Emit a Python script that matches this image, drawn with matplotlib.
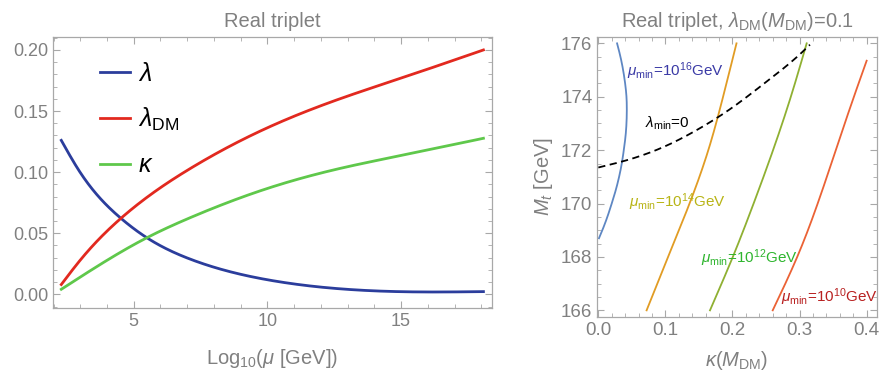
import numpy as np
import matplotlib
matplotlib.use("Agg")
import matplotlib.pyplot as plt
from matplotlib.ticker import MultipleLocator, FormatStrFormatter

plt.rcParams['font.family'] = ['Liberation Sans', 'DejaVu Sans']
plt.rcParams['mathtext.fontset'] = 'custom'
plt.rcParams['mathtext.rm'] = 'Liberation Sans'
plt.rcParams['mathtext.it'] = 'Liberation Sans:italic'
plt.rcParams['mathtext.bf'] = 'Liberation Sans:bold'

GREY = '#808080'
FRAME = '#a8a8a8'

# running couplings vs log10(mu), read at uneven points
x_lam = [2.29, 2.93, 4.52, 5.49, 7.11, 8.36, 10.05, 12.71, 15.09, 18.08]
lam = [0.126, 0.102, 0.0622, 0.0463, 0.0288, 0.0199, 0.0117, 0.0045, 0.0021, 0.0022]
x_ldm = [2.29, 3.0, 4.52, 7.08, 10.05, 12.71, 15.09, 18.08]
lam_dm = [0.008, 0.028, 0.0622, 0.1025, 0.1368, 0.160, 0.1776, 0.2]
x_kap = [2.29, 5.49, 7.11, 10.05, 12.71, 15.09, 18.08]
kappa = [0.0041, 0.0463, 0.0627, 0.087, 0.103, 0.114, 0.1277]

# stability contours: kappa(M_DM) along M_t
mt16 = [168.7, 169, 169.5, 170, 170.5, 171, 171.5, 172, 172.5, 173, 173.5, 174, 174.5, 175, 175.5, 176]
k16 = [0.001, 0.006, 0.0135, 0.020, 0.026, 0.031, 0.035, 0.038, 0.0405, 0.042, 0.0425, 0.042,
       0.040, 0.037, 0.033, 0.028]
mt_grid = [166, 168, 170, 172, 174, 176]
k14 = [0.072, 0.104, 0.136, 0.164, 0.186, 0.206]
k12 = [0.1665, 0.2005, 0.2315, 0.2605, 0.2870, 0.3106]
mt10 = [166, 168, 170, 172, 174, 175.35]
k10 = [0.26, 0.2965, 0.327, 0.354, 0.381, 0.40]
# lambda_min = 0 line
k_l0 = [0.0, 0.05, 0.1, 0.15, 0.2, 0.25, 0.3, 0.3155]
mt_l0 = [171.35, 171.68, 172.15, 172.8, 173.6, 174.55, 175.58, 175.95]


def spline(x, y, n=300):
    # natural cubic spline through the points, x increasing
    x = np.asarray(x, float)
    y = np.asarray(y, float)
    h = np.diff(x)
    m = len(x)
    A = np.zeros((m, m))
    b = np.zeros(m)
    A[0, 0] = A[-1, -1] = 1
    for i in range(1, m - 1):
        A[i, i - 1] = h[i - 1]
        A[i, i] = 2 * (h[i - 1] + h[i])
        A[i, i + 1] = h[i]
        b[i] = 6 * ((y[i + 1] - y[i]) / h[i] - (y[i] - y[i - 1]) / h[i - 1])
    M = np.linalg.solve(A, b)
    xs = np.linspace(x[0], x[-1], n)
    j = np.clip(np.searchsorted(x, xs) - 1, 0, m - 2)
    t0 = x[j + 1] - xs
    t1 = xs - x[j]
    hj = h[j]
    ys = (M[j] * t0**3 + M[j + 1] * t1**3) / (6 * hj) \
        + (y[j] / hj - M[j] * hj / 6) * t0 + (y[j + 1] / hj - M[j + 1] * hj / 6) * t1
    return xs, ys


def frame_style(ax, size=13):
    for s in ax.spines.values():
        s.set_color(FRAME)
        s.set_linewidth(0.9)
    ax.tick_params(which='both', direction='in', top=True, right=True,
                   color=FRAME, labelcolor=GREY, labelsize=size)
    ax.tick_params(which='major', length=5, width=0.8)
    ax.tick_params(which='minor', length=2.8, width=0.6)


fig = plt.figure(figsize=(8.82, 3.76), dpi=100)
ax1 = fig.add_axes([0.0601, 0.1809, 0.4977, 0.7207])
ax2 = fig.add_axes([0.6772, 0.1569, 0.3171, 0.7455])

# left panel
ax1.plot(*spline(x_lam, lam), color='#2b3d9c', lw=2.0, label=r'$\lambda$')
ax1.plot(*spline(x_ldm, lam_dm), color='#e2291f', lw=2.0, label=r'$\lambda_{\rm DM}$')
ax1.plot(*spline(x_kap, kappa), color='#5fc84b', lw=2.0, label=r'$\kappa$')
ax1.set_xlim(1.98, 18.4)
ax1.set_ylim(-0.0112, 0.2106)
ax1.xaxis.set_major_locator(MultipleLocator(5))
ax1.xaxis.set_minor_locator(MultipleLocator(1))
ax1.yaxis.set_major_locator(MultipleLocator(0.05))
ax1.yaxis.set_minor_locator(MultipleLocator(0.01))
ax1.yaxis.set_major_formatter(FormatStrFormatter('%.2f'))
frame_style(ax1)
ax1.set_title('Real triplet', color=GREY, fontsize=14.5, pad=7)
ax1.set_xlabel(r'Log$_{10}$($\mu$ [GeV])', color=GREY, fontsize=14.5, labelpad=12)
ax1.legend(loc='upper left', bbox_to_anchor=(0.055, 0.99), frameon=False, fontsize=18,
           handlelength=1.2, handletextpad=0.35, labelspacing=0.8)

# right panel
m16, c16 = spline(mt16, k16)
ax2.plot(c16, m16, color='#5e87c3', lw=1.3)
m14, c14 = spline(mt_grid, k14)
ax2.plot(c14, m14, color='#e19c24', lw=1.3)
m12, c12 = spline(mt_grid, k12)
ax2.plot(c12, m12, color='#8fb032', lw=1.3)
m10, c10 = spline(mt10, k10)
ax2.plot(c10, m10, color='#eb6235', lw=1.3)
ax2.plot(*spline(k_l0, mt_l0), color='black', lw=1.3, ls=(0, (4, 2.5)))
ax2.set_xlim(-0.0015, 0.4154)
ax2.set_ylim(165.75, 176.25)
ax2.xaxis.set_major_locator(MultipleLocator(0.1))
ax2.xaxis.set_minor_locator(MultipleLocator(0.02))
ax2.yaxis.set_major_locator(MultipleLocator(2))
ax2.yaxis.set_minor_locator(MultipleLocator(0.5))
ax2.xaxis.set_major_formatter(FormatStrFormatter('%.1f'))
frame_style(ax2, 13.5)
ax2.set_title(r'Real triplet, $\lambda_{\rm DM}$($M_{\rm DM}$)=0.1', color=GREY, fontsize=14.5, pad=7)
ax2.set_xlabel(r'$\kappa$($M_{\rm DM}$)', color=GREY, fontsize=14.5, labelpad=7)
ax2.set_ylabel(r'$M_t$ [GeV]', color=GREY, fontsize=14.5, labelpad=4)

lab = dict(fontsize=11, va='center', ha='left')
ax2.text(0.043, 174.95, r'$\mu_{\rm min}$=10$^{16}$GeV', color='#3a3aa6', **lab)
ax2.text(0.070, 173.0, r'$\lambda_{\rm min}$=0', color='black', **lab)
ax2.text(0.046, 170.05, r'$\mu_{\rm min}$=10$^{14}$GeV', color='#b8b416', **lab)
ax2.text(0.153, 167.95, r'$\mu_{\rm min}$=10$^{12}$GeV', color='#2eb52e', **lab)
ax2.text(0.272, 166.5, r'$\mu_{\rm min}$=10$^{10}$GeV', color='#b82020', **lab)

fig.savefig('out.png', dpi=100)
